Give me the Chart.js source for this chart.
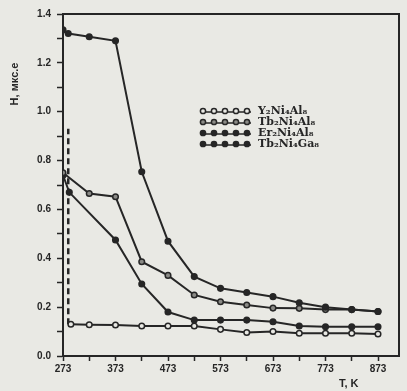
<!DOCTYPE html>
<html>
<head>
<meta charset="utf-8">
<script src="https://cdn.jsdelivr.net/npm/chart.js@4/dist/chart.umd.min.js"></script>
<style>
  html, body { margin: 0; padding: 0; background: #e9e9e4; }
  #wrap { width: 407px; height: 391px; }
</style>
</head>
<body>
<div id="wrap"><canvas id="chart" width="407" height="391"></canvas></div>
<script>
// temperature (K) and coercive force readings for each compound
const tbGaT = [273, 283, 323, 373, 423, 473, 523, 573, 623, 673, 723, 773, 823, 873];
const tbGaH = [1.335, 1.32, 1.307, 1.29, 0.754, 0.47, 0.325, 0.277, 0.26, 0.243, 0.218, 0.2, 0.19, 0.182];

const tbAlT = [273, 323, 373, 423, 473, 523, 573, 623, 673, 723, 773, 823, 873];
const tbAlH = [0.75, 0.665, 0.652, 0.386, 0.33, 0.25, 0.222, 0.209, 0.196, 0.195, 0.19, 0.19, 0.182];

const erAlT = [273, 285, 373, 423, 473, 523, 573, 623, 673, 723, 773, 823, 873];
const erAlH = [0.74, 0.67, 0.475, 0.295, 0.18, 0.147, 0.147, 0.147, 0.14, 0.123, 0.12, 0.12, 0.12];

const yAlT = [288, 323, 373, 423, 473, 523, 573, 623, 673, 723, 773, 823, 873];
const yAlH = [0.13, 0.128, 0.127, 0.123, 0.123, 0.123, 0.109, 0.096, 0.1, 0.093, 0.093, 0.093, 0.09];

// vertical dashed marker near room temperature
const dashT = [283, 283];
const dashH = [0.13, 0.93];

const seriesNames = ['Y₂Ni₄Al₈', 'Tb₂Ni₄Al₈', 'Er₂Ni₄Al₈', 'Tb₂Ni₄Ga₈'];

const xTicks = [273, 323, 373, 423, 473, 523, 573, 623, 673, 723, 773, 823, 873];
const yTicks = [0, 0.1, 0.2, 0.3, 0.4, 0.5, 0.6, 0.7, 0.8, 0.9, 1.0, 1.1, 1.2, 1.3, 1.4];

const ink = '#262626';
const paper = '#e9e9e4';

function pts(xs, ys) {
    return xs.map((x, i) => ({ x: x, y: ys[i] }));
}

function series(label, xs, ys, fill) {
    return {
        label: label,
        data: pts(xs, ys),
        borderColor: ink,
        borderWidth: 2,
        pointRadius: 2.8,
        pointBorderWidth: 1.5,
        pointBorderColor: ink,
        pointBackgroundColor: fill,
        tension: 0
    };
}

// legend order matches the picture, marker fill per series
const legendFills = [paper, '#8a8a86', ink, ink];

const frameAndText = {
    id: 'frameAndText',
    afterDraw(chart) {
        const c = chart.ctx;
        const a = chart.chartArea;
        c.save();
        c.strokeStyle = ink;
        c.lineWidth = 2;
        c.beginPath();
        c.moveTo(a.left, a.top);
        c.lineTo(a.right, a.top);
        c.lineTo(a.right, a.bottom);
        c.stroke();

        c.fillStyle = ink;
        c.font = 'bold 11px "Liberation Sans", sans-serif';
        c.textAlign = 'left';
        c.textBaseline = 'middle';
        c.fillText('T, K', 339, 384);

        c.save();
        c.translate(15, 84);
        c.rotate(-Math.PI / 2);
        c.textAlign = 'center';
        c.fillText('H, мкс.е', 0, 0);
        c.restore();

        // legend
        const rows = [111, 122, 133, 144];
        seriesNames.forEach((name, i) => {
            const y = rows[i];
            c.strokeStyle = ink;
            c.lineWidth = 1.5;
            c.beginPath();
            c.moveTo(201, y + 1);
            c.lineTo(251, y + 1);
            c.stroke();
            for (let k = 0; k < 5; k++) {
                c.beginPath();
                c.arc(203 + k * 11, y, 2.6, 0, Math.PI * 2);
                c.fillStyle = legendFills[i];
                c.fill();
                c.stroke();
            }
            c.fillStyle = ink;
            c.font = 'bold 11px "DejaVu Serif", serif';
            c.textAlign = 'left';
            c.fillText(name, 258, y);
        });
        c.restore();
    }
};

const ctx = document.getElementById('chart').getContext('2d');
const chart = new Chart(ctx, {
    type: 'line',
    data: {
        datasets: [
            series(seriesNames[3], tbGaT, tbGaH, ink),
            series(seriesNames[1], tbAlT, tbAlH, '#8a8a86'),
            series(seriesNames[2], erAlT, erAlH, ink),
            series(seriesNames[0], yAlT, yAlH, paper),
            {
                label: 'dash',
                data: pts(dashT, dashH),
                borderColor: ink,
                borderWidth: 2.5,
                borderDash: [6, 4],
                pointRadius: 0
            }
        ]
    },
    options: {
        responsive: false,
        animation: false,
        layout: { padding: { top: 14, right: 8, left: 0, bottom: 0 } },
        plugins: {
            legend: { display: false },
            tooltip: { enabled: false }
        },
        scales: {
            x: {
                type: 'linear',
                min: 273,
                max: 913,
                afterBuildTicks: s => { s.ticks = xTicks.map(v => ({ value: v })); },
                afterFit: s => { s.height = 35; },
                border: { color: ink, width: 2 },
                grid: { drawOnChartArea: false, drawTicks: true, tickLength: 5, tickWidth: 1.5, color: ink },
                ticks: {
                    color: ink,
                    padding: 2,
                    maxRotation: 0,
                    autoSkip: false,
                    font: { family: '"Liberation Sans", sans-serif', size: 10, weight: 'bold' },
                    callback: v => ((v - 273) % 100 === 0 ? String(v) : '')
                }
            },
            y: {
                min: 0,
                max: 1.4,
                afterBuildTicks: s => { s.ticks = yTicks.map(v => ({ value: v })); },
                afterFit: s => { s.width = 63; },
                border: { color: ink, width: 2 },
                grid: { drawOnChartArea: false, drawTicks: true, tickLength: 6, tickWidth: 1.5, color: ink },
                ticks: {
                    color: ink,
                    padding: 6,
                    autoSkip: false,
                    font: { family: '"Liberation Sans", sans-serif', size: 10, weight: 'bold' },
                    callback: v => (Math.round(v * 10) % 2 === 0 ? v.toFixed(1) : '')
                }
            }
        }
    },
    plugins: [frameAndText]
});
</script>
</body>
</html>
